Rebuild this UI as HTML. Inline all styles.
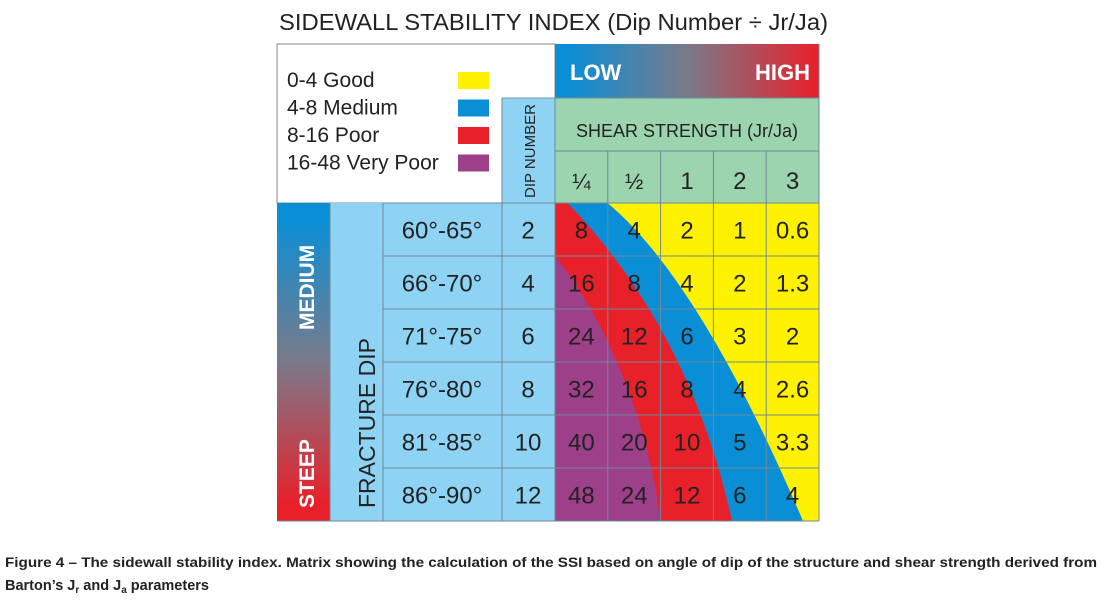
<!DOCTYPE html>
<html><head><meta charset="utf-8"><style>
body{margin:0;background:#fff;width:1104px;height:596px;overflow:hidden}
svg text{font-family:"Liberation Sans",sans-serif}
</style></head><body>
<svg id="c" width="1104" height="596">
<defs>
<linearGradient id="gh" x1="0" x2="1" y1="0" y2="0"><stop offset="0.05" stop-color="#0a8fd6"/><stop offset="0.5" stop-color="#7a7a8a"/><stop offset="1" stop-color="#e8202a"/></linearGradient>
<linearGradient id="gv" x1="0" x2="0" y1="0" y2="1"><stop offset="0.05" stop-color="#0a8fd6"/><stop offset="0.5" stop-color="#7a7a8a"/><stop offset="0.95" stop-color="#e8202a"/></linearGradient>
</defs>
<text x="279" y="30" font-size="23" textLength="549" lengthAdjust="spacingAndGlyphs" fill="#222">SIDEWALL STABILITY INDEX (Dip Number ÷ Jr/Ja)</text>
<rect x="277" y="44" width="278" height="159" fill="#fff" stroke="#888"/>
<rect x="555" y="44" width="264" height="54" fill="url(#gh)"/>
<text x="570" y="80" font-size="22" font-weight="bold" fill="#fff">LOW</text>
<text x="810" y="80" font-size="22" font-weight="bold" fill="#fff" text-anchor="end">HIGH</text>
<rect x="555" y="98" width="264" height="105" fill="#9dd4b0" stroke="#7a9a8a"/>
<text x="687" y="137" font-size="18" text-anchor="middle" fill="#222">SHEAR STRENGTH (Jr/Ja)</text>
<rect x="502" y="98" width="53" height="105" fill="#8fd3f4" stroke="#7a9aaa"/>
<text transform="translate(535,198) rotate(-90)" font-size="15" textLength="94" lengthAdjust="spacingAndGlyphs" fill="#222">DIP NUMBER</text>
<rect x="277" y="203" width="53" height="318" fill="url(#gv)"/>
<text transform="translate(314,330) rotate(-90)" font-size="21" font-weight="bold" fill="#fff">MEDIUM</text>
<text transform="translate(314,508) rotate(-90)" font-size="21" font-weight="bold" fill="#fff">STEEP</text>
<rect x="330" y="203" width="225" height="318" fill="#8fd3f4"/>
<text transform="translate(375,508) rotate(-90)" font-size="23" fill="#222">FRACTURE DIP</text>
<rect x="555" y="203" width="264" height="318" fill="#fff200"/>
<path d="M607.5,203 Q700,280 803,521 L555,521 L555,203 Z" fill="#0a8fd6"/>
<path d="M567.5,203 Q690,330 732,521 L555,521 L555,203 Z" fill="#e8202a"/>
<path d="M555,256 C600,310 650,420 660,521 L555,521 Z" fill="#9e3f8a"/>
<g id="grid" stroke="#6f8a96" stroke-width="1" fill="none"></g>
<g id="txt"></g>
<text x="5" y="567" font-size="14" font-weight="bold" textLength="1092" lengthAdjust="spacingAndGlyphs" fill="#222">Figure 4 – The sidewall stability index. Matrix showing the calculation of the SSI based on angle of dip of the structure and shear strength derived from</text>
<text x="5" y="590" font-size="14.5" font-weight="bold" fill="#222">Barton’s J<tspan font-size="10" dy="3">r</tspan><tspan dy="-3"> and J</tspan><tspan font-size="10" dy="3">a</tspan><tspan dy="-3"> parameters</tspan></text>
</svg>
<script>
const legendLabels=["0-4 Good","4-8 Medium","8-16 Poor","16-48 Very Poor"];
const legendColors=["#fff200","#0a8fd6","#e8202a","#9e3f8a"];
const shearLabels=["¼","½","1","2","3"];
const dipRanges=["60°-65°","66°-70°","71°-75°","76°-80°","81°-85°","86°-90°"];
const dipNumbers=["2","4","6","8","10","12"];
const values=[["8","4","2","1","0.6"],["16","8","4","2","1.3"],["24","12","6","3","2"],["32","16","8","4","2.6"],["40","20","10","5","3.3"],["48","24","12","6","4"]];
const NS="http://www.w3.org/2000/svg";
const X0=555,CW=52.8,Y0=203,RH=53;
const colX=i=>X0+i*CW, rowY=j=>Y0+j*RH;
const txt=document.getElementById('txt'),grid=document.getElementById('grid');
function t(x,y,s,size,anchor){const e=document.createElementNS(NS,'text');e.setAttribute('x',x);e.setAttribute('y',y);e.setAttribute('font-size',size);e.setAttribute('fill','#222');e.setAttribute('text-anchor',anchor||'middle');e.textContent=s;txt.appendChild(e);return e;}
function ln(x1,y1,x2,y2){const e=document.createElementNS(NS,'line');e.setAttribute('x1',x1);e.setAttribute('y1',y1);e.setAttribute('x2',x2);e.setAttribute('y2',y2);grid.appendChild(e);return e;}
legendLabels.forEach((l,i)=>{const e=t(287,87+i*27.5,l,21,'start');


const r=document.createElementNS(NS,'rect');r.setAttribute('x',458);r.setAttribute('y',72+i*27.5);r.setAttribute('width',31);r.setAttribute('height',17);r.setAttribute('fill',legendColors[i]);txt.appendChild(r);

});
shearLabels.forEach((s,i)=>{const e=t(colX(i)+CW/2,rowY(0)-14,s,i<2?22:24);

});
dipRanges.forEach((d,j)=>{const y=rowY(j)+RH/2+9;
const a=t(442,y,d,24);


const b=t(528,y,dipNumbers[j],24);


values[j].forEach((v,i)=>{const c=t(colX(i)+CW/2,y,v,24);

});});
for(let i=0;i<=5;i++)ln(colX(i),i==0?98:151,colX(i),521);
ln(555,151,819,151);
for(let j=0;j<=6;j++)ln(383,rowY(j),819,rowY(j));
ln(330,203,330,521);ln(383,203,383,521);ln(502,98,502,521);
ln(277,521,819,521);ln(819,44,819,521);ln(555,98,819,98);
</script>
</body></html>
